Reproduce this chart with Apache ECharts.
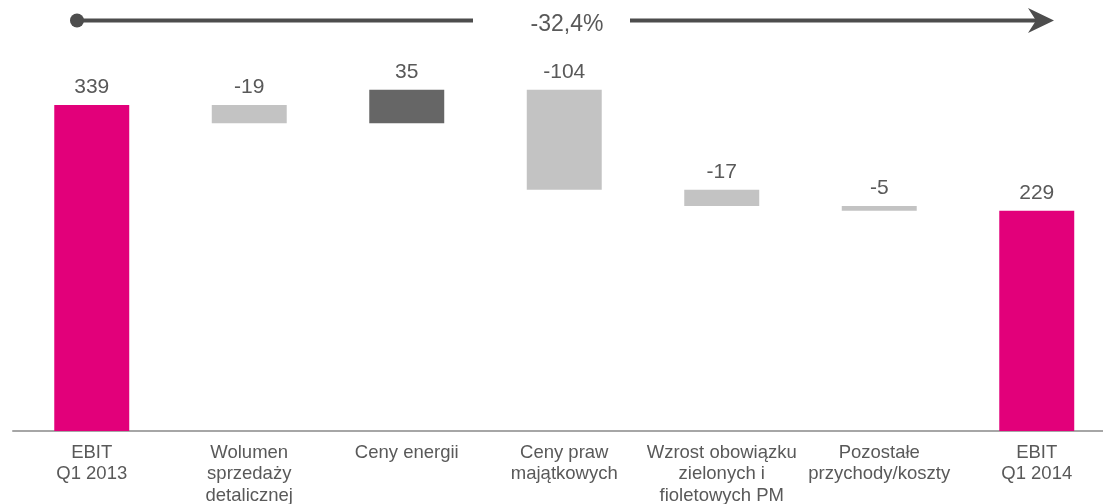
<!DOCTYPE html>
<html>
<head>
<meta charset="utf-8">
<script src="https://cdn.jsdelivr.net/npm/echarts@6/dist/echarts.min.js"></script>
<style>
  html, body { margin: 0; padding: 0; background: #fff; }
  #chart { width: 1103px; height: 504px; }
</style>
</head>
<body>
<div id="chart"></div>
<script>
// EBIT bridge Q1 2013 -> Q1 2014 (mln zł)
const categories = [
  'EBIT\nQ1 2013',
  'Wolumen\nsprzedaży\ndetalicznej',
  'Ceny energii',
  'Ceny praw\nmajątkowych',
  'Wzrost obowiązku\nzielonych i\nfioletowych PM',
  'Pozostałe\nprzychody/koszty',
  'EBIT\nQ1 2014'
];
const startValue = 339;
const changes = [-19, 35, -104, -17, -5];
const endValue = 229;

const MAGENTA = '#E2007A';
const NEG = '#C3C3C3';
const POS = '#666666';
const TEXT = '#595959';
const FONT = '"Liberation Sans", Arial, sans-serif';

// Build invisible bases and visible segments for the waterfall
const base = [], seg = [], labels = [], colors = [];
base.push(0); seg.push(startValue); labels.push(String(startValue)); colors.push(MAGENTA);
let level = startValue;
changes.forEach(d => {
  const next = level + d;
  base.push(Math.min(level, next));
  seg.push(Math.abs(d));
  labels.push(String(d));
  colors.push(d < 0 ? NEG : POS);
  level = next;
});
base.push(0); seg.push(endValue); labels.push(String(endValue)); colors.push(MAGENTA);

const pct = ((endValue - startValue) / startValue * 100);
const pctText = (pct < 0 ? '-' : '+') + Math.abs(Math.trunc(pct * 10) / 10).toFixed(1).replace('.', ',') + '%';

const chart = echarts.init(document.getElementById('chart'), null, { renderer: 'canvas' });
chart.setOption({
  animation: false,
  backgroundColor: '#fff',
  textStyle: { fontFamily: FONT },
  grid: { left: 13, top: 81, width: 1102.5, height: 350, containLabel: false, outerBoundsMode: 'none' },
  xAxis: {
    type: 'category',
    data: categories,
    axisLine: { lineStyle: { color: '#A6A6A6', width: 2 } },
    axisTick: { show: false },
    axisLabel: {
      color: TEXT, fontSize: 18.5, lineHeight: 21.5, margin: 11,
      interval: 0, fontFamily: FONT
    }
  },
  yAxis: { type: 'value', min: 0, max: 364, show: false, splitLine: { show: false } },
  series: [
    {
      type: 'bar', stack: 'w', data: base, barWidth: '47.6%',
      itemStyle: { color: 'transparent' }, silent: true
    },
    {
      type: 'bar', stack: 'w', barWidth: '47.6%',
      data: seg.map((v, i) => ({ value: v, itemStyle: { color: colors[i] } })),
      label: {
        show: true, position: 'top', distance: 7,
        color: TEXT, fontSize: 21, fontFamily: FONT,
        formatter: p => labels[p.dataIndex]
      }
    }
  ],
  graphic: [
    { type: 'line', shape: { x1: 77, y1: 20.5, x2: 473, y2: 20.5 }, style: { stroke: '#4D4D4D', lineWidth: 4 } },
    { type: 'circle', shape: { cx: 77, cy: 20.5, r: 7 }, style: { fill: '#4D4D4D' } },
    { type: 'line', shape: { x1: 630, y1: 20.5, x2: 1040, y2: 20.5 }, style: { stroke: '#4D4D4D', lineWidth: 4 } },
    { type: 'polygon', shape: { points: [[1028, 8], [1054, 20.5], [1028, 33], [1036, 20.5]] }, style: { fill: '#4D4D4D' } },
    {
      type: 'text', x: 567, y: 25, style: {
        text: pctText, fill: TEXT, fontSize: 23, fontFamily: FONT,
        align: 'center', verticalAlign: 'middle'
      }
    }
  ]
});
</script>
</body>
</html>
